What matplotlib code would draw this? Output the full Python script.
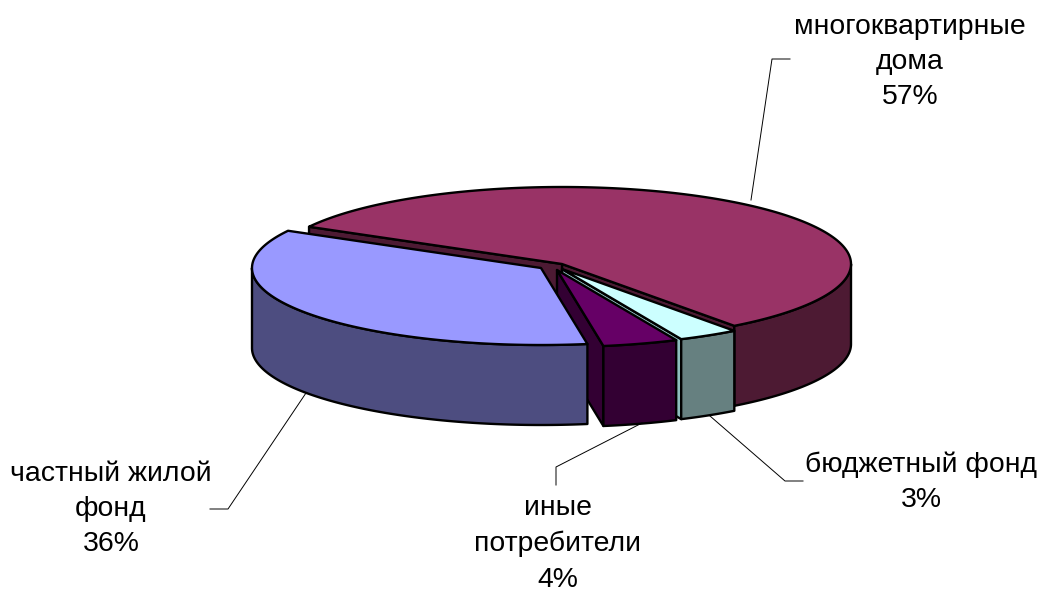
import numpy as np
import matplotlib
matplotlib.use("Agg")
import matplotlib.pyplot as plt
from matplotlib.patches import Polygon

plt.rcParams['font.family'] = ['Liberation Sans', 'DejaVu Sans']

categories = ['многоквартирные\nдома', 'частный жилой\nфонд', 'иные\nпотребители', 'бюджетный фонд']
values = [56.8, 35.6, 4.2, 3.4]
top_colors = ['#993366', '#9999FF', '#660066', '#CCFFFF']
side_colors = ['#4D1A33', '#4D4D80', '#330033', '#668080']
inner_colors = ['#4D1A33', '#33335A', '#330033', '#8FBFBF']
centers = [(562, 264), (541, 268), (557, 270), (562, 269)]
label_pos = [(910, 62), (111, 509), (558, 544), (921, 482)]
leaders = [[(751, 200), (772, 59), (790, 59)],
           [(306, 393), (228, 509), (210, 509)],
           [(642, 423), (556, 467), (556, 485)],
           [(710, 416), (785, 481), (803, 481)]]
start_angle = -53.4
rx, ry, depth = 289, 77, 80
draw_order = [0, 3, 2, 1]

fig = plt.figure(figsize=(10.4, 5.93), dpi=100)
ax = fig.add_axes([0, 0, 1, 1])
ax.set_xlim(0, 1040)
ax.set_ylim(593, 0)
ax.axis('off')

spans = np.array(values) / sum(values) * 360
starts = start_angle + np.concatenate([[0], np.cumsum(spans)[:-1]])


def rim(c, a0, a1, dz=0):
    t = np.radians(np.linspace(a0, a1, max(int(abs(a1 - a0)) * 2, 2)))
    return np.column_stack([c[0] + rx * np.cos(t), c[1] - ry * np.sin(t) + dz])


def add(pts, color, z):
    ax.add_patch(Polygon(pts, closed=True, facecolor=color, edgecolor='black',
                         linewidth=1.7, joinstyle='round', zorder=z))


for z, i in enumerate(draw_order):
    c = centers[i]
    a0, a1 = starts[i], starts[i] + spans[i]
    base = 10 + z * 5
    # radial cut faces: only those turned towards the viewer
    for a, normal in ((a0, a0 - 90), (a1, a1 + 90)):
        if np.sin(np.radians(normal)) < 0:
            e = rim(c, a, a + 0.001)[0]
            add([c, e, (e[0], e[1] + depth), (c[0], c[1] + depth)], inner_colors[i], base)
    # outer wall: only the part of the rim that faces the viewer
    for k in (-360, 0):
        lo, hi = max(a0, 180 + k), min(a1, 360 + k)
        if hi > lo:
            r = rim(c, lo, hi)
            add(np.vstack([r, rim(c, hi, lo, depth)]), side_colors[i], base + 1)
    add(np.vstack([[c], rim(c, a0, a1)]), top_colors[i], base + 2)

for i, name in enumerate(categories):
    ax.text(*label_pos[i], f'{name}\n{round(values[i])}%', ha='center', va='center',
            fontsize=20.4, color='black', linespacing=1.47, zorder=50)
    xs, ys = zip(*leaders[i])
    ax.plot(xs, ys, color='black', lw=0.7, zorder=40)

fig.savefig('out.png', dpi=100)
